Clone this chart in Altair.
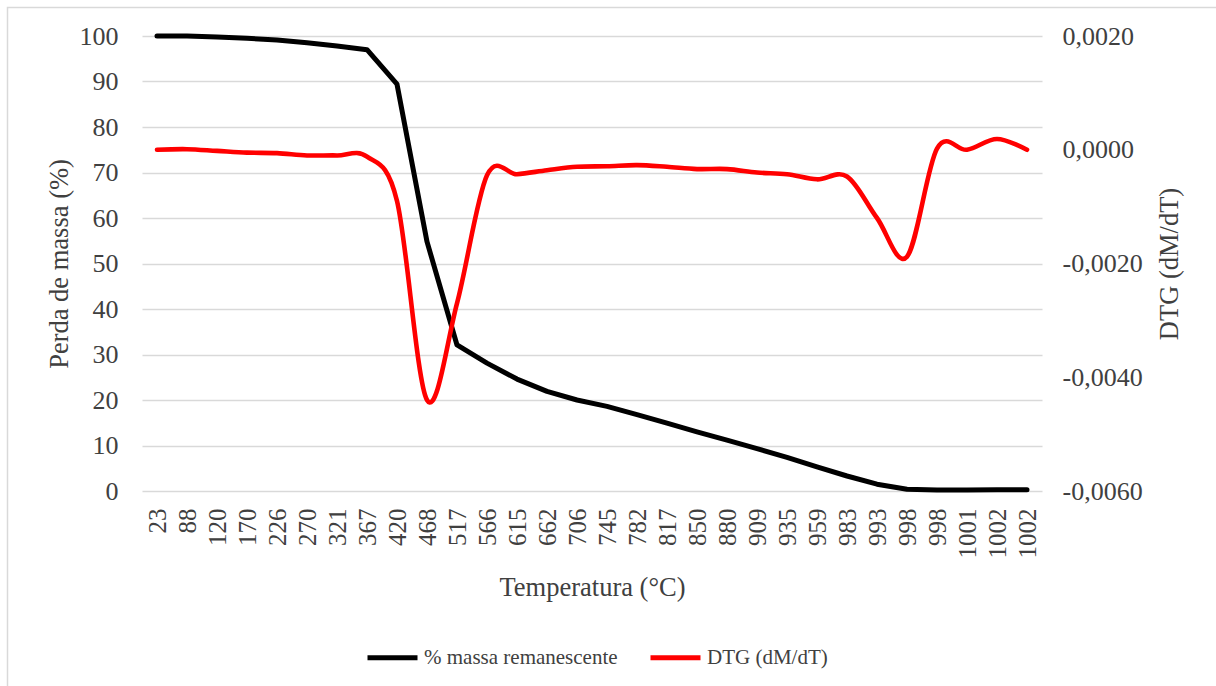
import altair as alt
import pandas as pd

# Temperature tick labels (categorical axis, duplicates kept)
TEMPS = ["23", "88", "120", "170", "226", "270", "321", "367", "420", "468",
         "517", "566", "615", "662", "706", "745", "782", "817", "850", "880",
         "909", "935", "959", "983", "993", "998", "998", "1001", "1002", "1002"]

# % massa remanescente
MASS = [100.0, 100.0, 99.8, 99.5, 99.1, 98.5, 97.8, 97.0, 89.4, 54.8,
        32.1, 28.1, 24.6, 21.9, 20.0, 18.6, 16.8, 14.9, 13.0, 11.2,
        9.3, 7.4, 5.3, 3.3, 1.5, 0.4, 0.2, 0.2, 0.3, 0.3]

# DTG (dM/dT)
DTG = [0.00000, 0.00001, -0.00002, -0.00005, -0.00006, -0.00010, -0.00010, -0.00012, -0.00090, -0.00440,
       -0.00270, -0.00045, -0.00043, -0.00036, -0.00030, -0.00029, -0.00027, -0.00030, -0.00034, -0.00034,
       -0.00040, -0.00043, -0.00052, -0.00047, -0.00120, -0.00188, 0.00002, 0.00000, 0.00019, 0.00000]

S1 = "% massa remanescente"
S2 = "DTG (dM/dT)"

n = len(TEMPS)
df_mass = pd.DataFrame({"i": list(range(n)), "v": MASS, "s": [S1] * n})
df_dtg = pd.DataFrame({"i": list(range(n)), "v": DTG, "s": [S2] * n})

FONT = "Liberation Serif, Times New Roman, serif"
TXT = "#404040"
GRID = "#d9d9d9"

label_arr = "[" + ",".join("'" + t + "'" for t in TEMPS) + "]"

color_enc = alt.Color(
    "s:N",
    scale=alt.Scale(domain=[S1, S2], range=["#000000", "#ff0000"]),
    legend=alt.Legend(title=None),
)

x_enc = alt.X(
    "i:O",
    title="Temperatura (°C)",
    sort=None,
    axis=alt.Axis(
        labelExpr=label_arr + "[datum.value]",
        labelAngle=270,
        labelPadding=17,
        labelFontSize=25,
        ticks=False,
        domain=False,
        grid=False,
        titleFontSize=26.5,
        titleX=450,
        titleY=96,
        titleBaseline="middle",
        titleFontWeight="normal",
    ),
)

mass_line = alt.Chart(df_mass).mark_line(strokeWidth=5, strokeCap="round", strokeJoin="round").encode(
    x=x_enc,
    y=alt.Y(
        "v:Q",
        title="Perda de massa (%)",
        scale=alt.Scale(domain=[0, 100], nice=False, zero=False),
        axis=alt.Axis(
            values=[0, 10, 20, 30, 40, 50, 60, 70, 80, 90, 100],
            labelPadding=24,
            labelFontSize=26,
            ticks=False,
            domain=False,
            grid=True,
            gridColor=GRID,
            gridWidth=1.4,
            titleFontSize=26.5,
            titleX=-83,
            titleY=227.5,
            titleAngle=270,
            titleAlign="center",
            titleBaseline="middle",
            titleFontWeight="normal",
        ),
    ),
    color=color_enc,
)

dtg_line = alt.Chart(df_dtg).mark_line(strokeWidth=4.6, strokeCap="round", interpolate="cardinal", tension=0).encode(
    x=x_enc,
    y=alt.Y(
        "v:Q",
        title="DTG (dM/dT)",
        scale=alt.Scale(domain=[-0.006, 0.002], nice=False, zero=False),
        axis=alt.Axis(
            orient="right",
            values=[-0.006, -0.004, -0.002, 0, 0.002],
            labelExpr="(datum.value < 0 ? '-' : '') + replace(format(abs(datum.value), '.4f'), '.', ',')",
            labelPadding=20,
            labelFontSize=26,
            ticks=False,
            domain=False,
            grid=False,
            titleFontSize=26.5,
            titleX=127,
            titleY=227.5,
            titleAngle=270,
            titleAlign="center",
            titleBaseline="middle",
            titleFontWeight="normal",
        ),
    ),
    color=color_enc,
)

frame = alt.Chart(pd.DataFrame({"k": [0]})).mark_rect(
    fill=None, stroke=GRID, strokeWidth=1.5
).encode(
    x=alt.value(-134.5), x2=alt.value(1200), y=alt.value(-28.5), y2=alt.value(800)
)

chart = alt.layer(frame, mass_line, dtg_line).resolve_scale(
    y="independent"
).properties(
    width=900,
    height=455,
    autosize=alt.AutoSizeParams(type="none"),
    padding={"left": 142, "top": 36, "right": 174, "bottom": 195},
    background="white",
).configure_view(
    stroke=None
).configure_axis(
    labelFont=FONT,
    titleFont=FONT,
    labelColor=TXT,
    titleColor=TXT,
).configure_legend(
    orient="none",
    legendX=223,
    legendY=594,
    direction="horizontal",
    symbolType="stroke",
    symbolSize=2500,
    symbolStrokeWidth=5,
    labelFont=FONT,
    labelFontSize=21,
    labelColor=TXT,
    labelOffset=4,
    labelLimit=0,
    columnPadding=22,
)

chart.save("out.html", embed_options={"renderer": "svg", "actions": False})
